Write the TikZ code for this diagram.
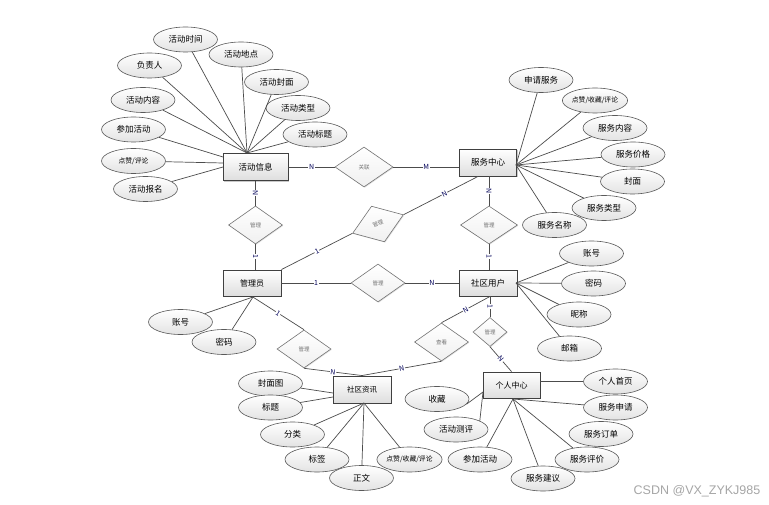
\documentclass[tikz,border=0pt]{standalone}
\usepackage{fontspec}
\setmainfont{Noto Sans CJK SC}
\newfontfamily\wmfont{Liberation Sans}
\usetikzlibrary{shapes.geometric,shadows}
\begin{document}
\begin{tikzpicture}[x=1pt,y=-1pt,
  ent/.style={rectangle, draw=black!75, line width=0.9pt, top color=white, bottom color=black!13,
    inner sep=0pt, font=\fontsize{8.5}{10}\selectfont,
    drop shadow={shadow xshift=1.2pt, shadow yshift=-1.2pt, opacity=0.35, fill=black!60}},
  attr/.style={ellipse, draw=black!65, line width=0.6pt, top color=white, bottom color=black!11,
    minimum width=64pt, minimum height=25pt, inner sep=0pt, font=\fontsize{8.5}{10}\selectfont},
  sattr/.style={attr, font=\fontsize{6.8}{8}\selectfont},
  rel/.style={diamond, draw=black!55, line width=0.6pt, top color=white, bottom color=black!6,
    minimum width=54pt, minimum height=38pt, inner sep=0pt, font=\fontsize{5.5}{6}\selectfont, text=black!55,
    drop shadow={shadow xshift=0.8pt, shadow yshift=-0.8pt, opacity=0.2, fill=black!60}},
  card/.style={font=\fontsize{7}{8}\selectfont, text=blue!35!black, fill=white, inner sep=0.6pt, sloped},
  conn/.style={draw=black!70, line width=0.7pt}
]
\fill[white] (0,0) rectangle (769,505);
\useasboundingbox (0,0) rectangle (769,505);

% entities
\node[ent, minimum width=65pt, minimum height=27pt] (hd) at (255.5,167) {活动信息};
\node[ent, minimum width=57pt, minimum height=27pt] (fw) at (488,162.5) {服务中心};
\node[ent, minimum width=58pt, minimum height=26pt, font=\fontsize{8}{9}\selectfont] (gly) at (252,283) {管理员};
\node[ent, minimum width=58pt, minimum height=26pt] (sqyh) at (488,283) {社区用户};
\node[ent, minimum width=58pt, minimum height=27pt, font=\fontsize{7.5}{9}\selectfont] (sqzx) at (362,389.5) {社区资讯};
\node[ent, minimum width=57pt, minimum height=26pt, font=\fontsize{8}{9}\selectfont] (grzx) at (511.5,385) {个人中心};

% relations
\node[rel, minimum width=58pt, minimum height=40pt] (r1) at (364,167) {关联};
\node[rel] (r2) at (255.5,225) {管理};
\node[rel, rotate=20] (r3) at (378,224) {管理};
\node[rel, minimum width=57pt] (r4) at (489,225) {管理};
\node[rel] (r5) at (378,283) {管理};
\node[rel] (r6) at (304,349) {管理};
\node[rel] (r7) at (441.5,342) {查看};
\node[rel, minimum width=34pt, minimum height=29pt] (r8) at (490,332) {管理};

% relation connectors
\draw[conn] (hd.east) -- node[card]{N} (r1.west);
\draw[conn] (r1.east) -- node[card]{M} (r1.east -| fw.west);
\draw[conn] (hd.south) -- node[card]{N} (r2.north);
\draw[conn] (r2.south) -- node[card]{1} (r2.south |- gly.north);
\draw[conn] (gly.north east) -- node[card]{1} (r3.west);
\draw[conn] (r3.east) -- node[card, pos=0.55]{N} ([xshift=-10pt]fw.south);
\draw[conn] (fw.south -| r4) -- node[card]{N} (r4.north);
\draw[conn] (r4.south) -- node[card]{1} (r4.south |- sqyh.north);
\draw[conn] (gly.east) -- node[card]{1} (r5.west);
\draw[conn] (r5.east) -- node[card]{N} (sqyh.west);
\draw[conn] (gly.south) -- node[card]{1} (r6.north);
\draw[conn] (r6.south) -- node[card]{N} (sqzx.north);
\draw[conn] ([xshift=2pt]sqyh.south) -- node[card]{N} (r7.north);
\draw[conn] (r7.south) -- node[card]{N} (sqzx.north);
\draw[conn] ([xshift=2pt]sqyh.south) -- node[card]{1} (r8.north);
\draw[conn] (r8.south) -- node[card]{N} (grzx.north);

% attributes of 活动信息
\coordinate (c1) at (247,153);
\coordinate (c1a) at (223,157);
\coordinate (c1b) at (223,163);
\coordinate (c1c) at (223,167);
\node[attr] (a1) at (185.5,39.5) {活动时间};
\node[attr] (a2) at (241,54.5) {活动地点};
\node[attr] (a3) at (149.5,65.5) {负责人};
\node[attr] (a4) at (276.5,82) {活动封面};
\node[attr] (a5) at (143,100) {活动内容};
\node[attr] (a6) at (298,108) {活动类型};
\node[attr] (a7) at (133.5,129.5) {参加活动};
\node[attr] (a8) at (315,134.5) {活动标题};
\node[sattr] (a9) at (133.5,161) {点赞/评论};
\node[attr] (a10) at (145.5,189) {活动报名};
\foreach \a in {a1,a2,a3,a4,a5,a6,a8} \draw[conn] (\a) -- (c1);
\draw[conn] (a7) -- (c1a);
\draw[conn] (a9) -- (c1b);
\draw[conn] (a10) -- (c1c);

% attributes of 服务中心
\coordinate (c2) at (516,165);
\node[attr] (b1) at (541,80) {申请服务};
\node[sattr] (b2) at (595,100.5) {点赞/收藏/评论};
\node[attr] (b3) at (615,128) {服务内容};
\node[attr] (b4) at (633,154.5) {服务价格};
\node[attr] (b5) at (632.5,181.5) {封面};
\node[attr] (b6) at (604,208) {服务类型};
\node[attr] (b7) at (554.5,225) {服务名称};
\foreach \a in {b1,b2,b3,b4,b5,b6,b7} \draw[conn] (\a) -- (c2);

% attributes of 社区用户
\coordinate (c3) at (516,283);
\node[attr] (u1) at (591.5,253.5) {账号};
\node[attr] (u2) at (593.5,283.5) {密码};
\node[attr] (u3) at (579,314.5) {昵称};
\node[attr] (u4) at (569.5,348.5) {邮箱};
\foreach \a in {u1,u2,u3,u4} \draw[conn] (\a) -- (c3);

% attributes of 管理员
\coordinate (c4) at (253,297);
\node[attr] (g1) at (180.5,322) {账号};
\node[attr] (g2) at (224,342) {密码};
\foreach \a in {g1,g2} \draw[conn] (\a) -- (c4);

% attributes of 社区资讯
\coordinate (c5) at (364,403);
\coordinate (c5a) at (333,393);
\coordinate (c5b) at (333,397);
\node[attr] (z1) at (270.5,383.5) {封面图};
\node[attr] (z2) at (270.5,407.5) {标题};
\node[attr] (z3) at (292.5,434.5) {分类};
\node[attr] (z4) at (317,459.5) {标签};
\node[attr] (z5) at (361.5,478) {正文};
\node[sattr] (z6) at (409.5,459.5) {点赞/收藏/评论};
\draw[conn] (z1) -- (c5a);
\draw[conn] (z2) -- (c5b);
\foreach \a in {z3,z4,z5,z6} \draw[conn] (\a) -- (c5);

% attributes of 个人中心
\coordinate (c6) at (513,399);
\coordinate (c6a) at (483,392);
\node[attr] (p1) at (615.5,381.5) {个人首页};
\node[attr] (p2) at (615.5,407.5) {服务申请};
\node[attr] (p3) at (601,434) {服务订单};
\node[attr] (p4) at (587,459.5) {服务评价};
\node[attr] (p5) at (543,478.5) {服务建议};
\node[attr] (p6) at (480,459.5) {参加活动};
\node[attr] (p7) at (456,429.5) {活动测评};
\node[attr] (p8) at (437,399) {收藏};
\draw[conn] (p1.west) -- (p1.west -| grzx.east);
\foreach \a in {p2,p4,p5,p6} \draw[conn] (\a) -- (c6);
\draw[conn] (p7.20) -- (c6a);
\draw[conn] (p8.-10) -- (c6a);

% watermark
\node[font=\wmfont\fontsize{12.5}{14}\selectfont, text=black!35, inner sep=0pt] (wm) at (697,491) {CSDN @VX\_ZYKJ985};
\end{tikzpicture}
\end{document}
